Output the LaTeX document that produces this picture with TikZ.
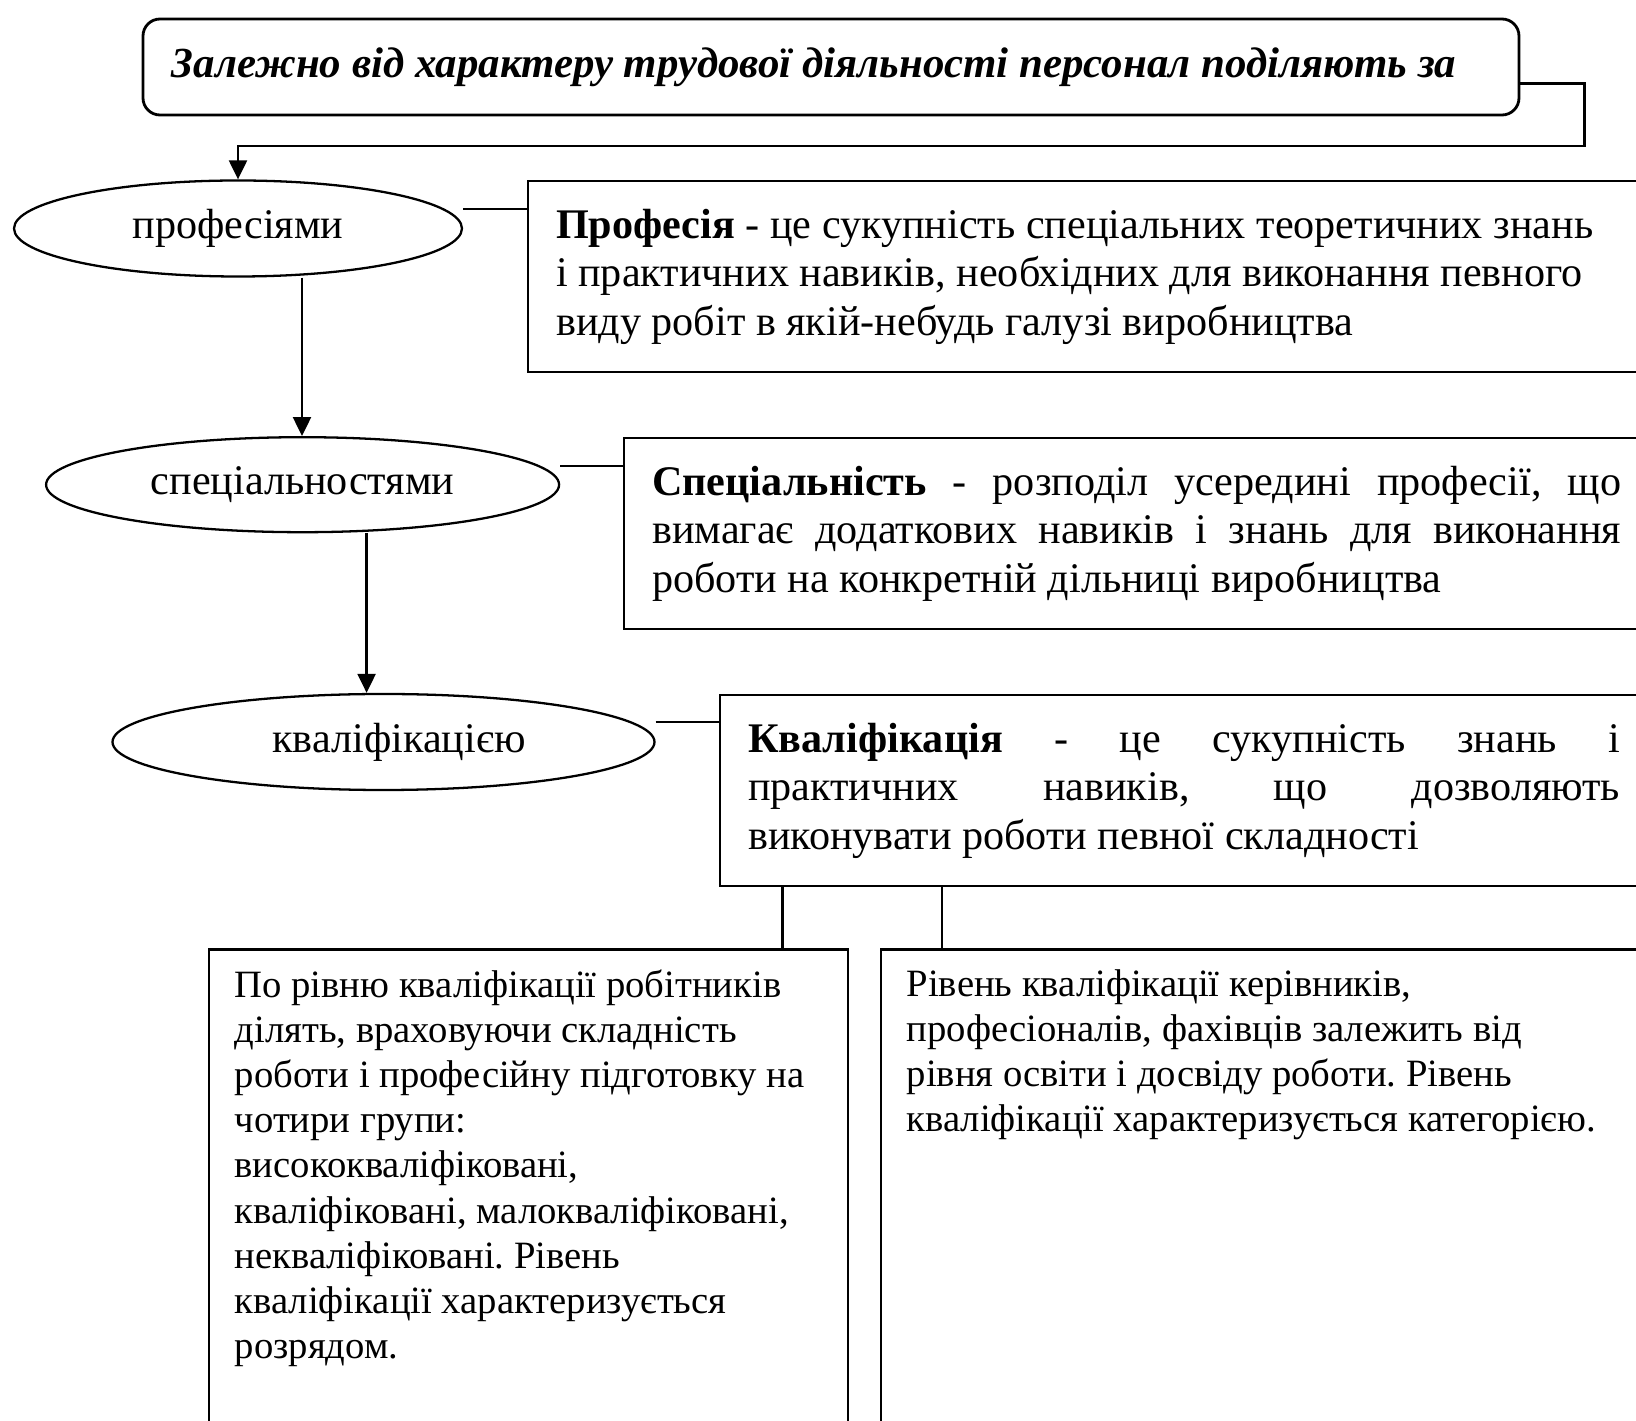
\documentclass[tikz,border=0pt]{standalone}
\usepackage{fontspec}
\setmainfont{Liberation Serif}
\usepackage{tikz}
\usetikzlibrary{arrows.meta,positioning,shapes.geometric}
\tikzset{
  headbox/.style={draw,line width=0.8pt,rounded corners=1.7mm,minimum height=0.96cm,text width=13.18cm,
              inner xsep=0.29cm,align=flush left,font=\fontsize{12.2}{14}\selectfont\bfseries\itshape},
  oval/.style={draw,ellipse,line width=0.65pt,inner sep=0pt,minimum height=0.96cm,font=\fontsize{12}{13.8}\selectfont},
  defbox/.style={draw,line width=0.65pt,anchor=north west,minimum height=1.91cm,inner xsep=0.28cm,
              font=\fontsize{12}{13.8}\selectfont},
  notebox/.style={draw,line width=0.65pt,anchor=north west,inner xsep=0.26cm,inner ysep=0.2cm,
              text depth=4.6cm,align=flush left,font=\fontsize{11}{12.85}\selectfont},
  arr/.style={-{Triangle[length=1.9mm,width=1.8mm]},line width=0.65pt},
  ln/.style={line width=0.65pt},
}
\hyphenpenalty=10000
\frenchspacing
\begin{document}
\begin{tikzpicture}
\useasboundingbox (0,0) rectangle (16.36,-14.21);
\clip (0,0) rectangle (16.36,-14.21);
% heading
\node[headbox] (head) at (8.31,-0.67) {Залежно від характеру трудової діяльності персонал поділяють за};
% ovals
\node[oval,minimum width=4.48cm] (prof) at (2.38,-2.285) {професіями};
\node[oval,minimum width=5.13cm,minimum height=0.95cm] (spec) at (3.026,-4.847) {спеціальностями};
\node[oval,minimum width=5.42cm] (qual) at (3.835,-7.42) {\hspace*{0.31cm}кваліфікацією};
% definitions
\node[defbox,text width=10.6cm,align=flush left] (defprof) at (5.27,-1.80)
  {\textbf{Професія} - це сукупність спеціальних теоретичних знань\\
   і практичних навиків, необхідних для виконання певного\\
   виду робіт в якій-небудь галузі виробництва};
\node[defbox,text width=9.69cm,align=justify] (defspec) at (6.23,-4.37)
  {\textbf{Спеціальність} - розподіл усередині професії, що\linebreak
   вимагає додаткових навиків і знань для виконання\linebreak
   роботи на конкретній дільниці виробництва};
\node[defbox,text width=8.72cm,align=justify] (defqual) at (7.19,-6.94)
  {\textbf{Кваліфікація} - це сукупність знань і\linebreak
   практичних навиків, що дозволяють\linebreak
   виконувати роботи певної складності};
% levels
\node[notebox,text width=5.87cm] (workers) at (2.076,-9.485)
  {По рівню кваліфікації робітників\\
   ділять, враховуючи складність\\
   роботи і професійну підготовку на\\
   чотири групи:\\
   висококваліфіковані,\\
   кваліфіковані, малокваліфіковані,\\
   некваліфіковані. Рівень\\
   кваліфікації характеризується\\
   розрядом.};
\node[notebox,text width=7.3cm] (managers) at (8.796,-9.485)
  {Рівень кваліфікації керівників,\\
   професіоналів, фахівців залежить від\\
   рівня освіти і досвіду роботи. Рівень\\
   кваліфікації характеризується категорією.};
% connectors
\draw[arr] ([yshift=-1.65mm]head.east) -- ++(0.64,0) |- ([yshift=3.3mm]prof.north) -- (prof.north);
\draw[ln] ([yshift=1.95mm]prof.east) -- ([yshift=1.95mm]prof.east -| defprof.west);
\draw[arr] ([xshift=6.4mm]prof.south) -- ([xshift=6.4mm]prof.south |- spec.north);
\draw[ln] ([yshift=1.87mm]spec.east) -- ([yshift=1.87mm]spec.east -| defspec.west);
\draw[arr] ([xshift=6.4mm]spec.south) -- ([xshift=6.4mm]spec.south |- qual.north);
\draw[ln] ([yshift=2mm]qual.east) -- ([yshift=2mm]qual.east -| defqual.west);
\draw[ln] ([xshift=6.35mm]defqual.south west) -- ([xshift=6.35mm]defqual.south west |- workers.north);
\draw[ln] ([xshift=22.3mm]defqual.south west) -- ([xshift=22.3mm]defqual.south west |- managers.north);
\end{tikzpicture}
\end{document}
